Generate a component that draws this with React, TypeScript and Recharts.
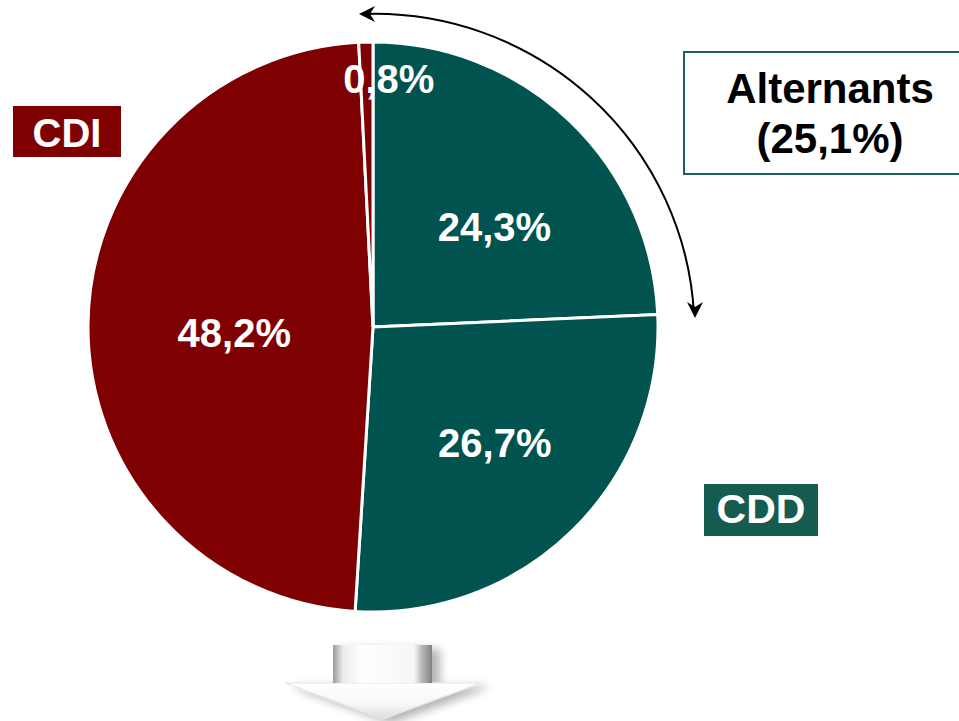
import React from 'react';
import { PieChart, Pie, Cell } from 'recharts';

// shares of each group, clockwise from 12 o'clock
const segments = ['CDD alternants', 'CDD', 'CDI', 'CDI alternants'];
const shares = [24.3, 26.7, 48.2, 0.8];
const groups = ['CDD', 'CDD', 'CDI', 'CDI'];
const alternantsShare = 25.1;

const RED = '#7f0000';
const TEAL = '#00534f';
const FONT = '"Liberation Sans", Arial, Helvetica, sans-serif';

// radius factor + small nudge per slice label
const labelPos: [number, number, number][] = [
  [0.55, 13, 13],
  [0.55, 12, 4],
  [0.55, 18, 7],
  [0.87, 22, 0],
];

const fmt = (v: number) => v.toFixed(1).replace('.', ',') + '%';

const data = segments.map((name, i) => ({ name, value: shares[i], group: groups[i] }));

const renderLabel = (props: any) => {
  const { cx, cy, midAngle, outerRadius, index, value } = props;
  const rad = Math.PI / 180;
  const [f, dx, dy] = labelPos[index];
  const r = outerRadius * f;
  const x = cx + r * Math.cos(-midAngle * rad) + dx;
  const y = cy + r * Math.sin(-midAngle * rad) + dy;
  return (
    <text
      x={x}
      y={y}
      textAnchor="middle"
      dominantBaseline="central"
      fill="#fff"
      fontFamily={FONT}
      fontWeight="bold"
      fontSize={40}
    >
      {fmt(value)}
    </text>
  );
};

function Overlay() {
  return (
    <svg
      width={959}
      height={721}
      style={{ position: 'absolute', left: 0, top: 0, pointerEvents: 'none' }}
    >
      <defs>
        <linearGradient id="shaft" x1="0" y1="0" x2="1" y2="0">
          <stop offset="0" stopColor="#9a9a9a" />
          <stop offset="0.1" stopColor="#ebebeb" />
          <stop offset="0.3" stopColor="#ffffff" />
          <stop offset="0.82" stopColor="#f6f6f6" />
          <stop offset="0.9" stopColor="#b8b8b8" />
          <stop offset="1" stopColor="#808080" />
        </linearGradient>
        <linearGradient id="head" x1="0" y1="0" x2="0" y2="1">
          <stop offset="0" stopColor="#ffffff" />
          <stop offset="0.6" stopColor="#f7f7f7" />
          <stop offset="1" stopColor="#dcdcdc" />
        </linearGradient>
        <filter id="shadow" x="-20%" y="-20%" width="150%" height="160%">
          <feGaussianBlur in="SourceAlpha" stdDeviation="5" />
          <feOffset dx="8" dy="4" result="b" />
          <feComponentTransfer>
            <feFuncA type="linear" slope="0.3" />
          </feComponentTransfer>
          <feMerge>
            <feMergeNode />
            <feMergeNode in="SourceGraphic" />
          </feMerge>
        </filter>
      </defs>

      {/* curved double arrow around the alternants slices */}
      <path d="M 364 14 A 320 318 0 0 1 694 314" fill="none" stroke="#000" strokeWidth={2} />
      <path d="M 359 14 L 375 6 L 370 14 L 375 22 Z" fill="#000" />
      <path d="M 695 318 L 687 302 L 695 307 L 703 302 Z" fill="#000" />

      {/* Alternants box */}
      <rect x={684} y={52} width={300} height={122} fill="#fff" stroke="#1b625c" strokeWidth={2} />
      <text x={830} y={103} textAnchor="middle" fontFamily={FONT} fontWeight="bold" fontSize={42} fill="#000">
        Alternants
      </text>
      <text x={830} y={153} textAnchor="middle" fontFamily={FONT} fontWeight="bold" fontSize={42} fill="#000">
        ({fmt(alternantsShare)})
      </text>

      {/* group tags */}
      <rect x={13} y={106} width={108} height={51} fill={RED} />
      <text x={67} y={147} textAnchor="middle" fontFamily={FONT} fontWeight="bold" fontSize={40} fill="#fff">
        CDI
      </text>
      <rect x={704} y={484} width={114} height={52} fill="#165b50" />
      <text x={761} y={523} textAnchor="middle" fontFamily={FONT} fontWeight="bold" fontSize={41} fill="#fff">
        CDD
      </text>

      {/* 3D down arrow */}
      <g filter="url(#shadow)">
        <polygon points="285,683 481,683 383,719" fill="url(#head)" stroke="#e2e2e2" strokeWidth={1} />
        <rect x={333} y={645} width={99} height={38} fill="url(#shaft)" />
      </g>
    </svg>
  );
}

export default function App() {
  return (
    <div
      style={{
        position: 'absolute',
        left: 0,
        top: 0,
        width: 959,
        height: 721,
        background: '#fff',
        overflow: 'hidden',
      }}
    >
      <PieChart width={959} height={721} margin={{ top: 0, right: 0, bottom: 0, left: 0 }}>
        <Pie
          data={data}
          dataKey="value"
          nameKey="name"
          cx={373}
          cy={327}
          outerRadius={285}
          startAngle={90}
          endAngle={-270}
          stroke="#fff"
          strokeWidth={3}
          label={renderLabel}
          labelLine={false}
          isAnimationActive={false}
        >
          {data.map((d, i) => (
            <Cell key={i} fill={d.group === 'CDI' ? RED : TEAL} />
          ))}
        </Pie>
      </PieChart>
      <Overlay />
    </div>
  );
}
